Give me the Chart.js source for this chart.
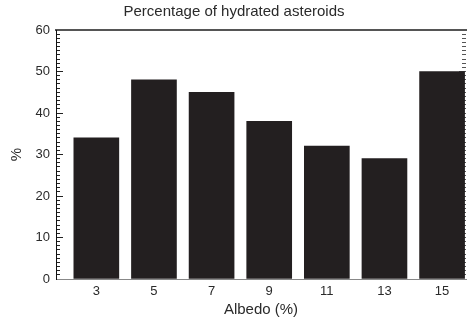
<!DOCTYPE html>
<html lang="en">
<head>
  <meta charset="UTF-8">
  <title>Percentage of hydrated asteroids</title>
  <script src="https://cdn.jsdelivr.net/npm/chart.js"></script>
  <style>
    body {
      margin: 0;
      background: #fff;
    }
    canvas {
      display: block;
    }
  </style>
</head>
<body>

<canvas id="hydratedChart" width="468" height="323"></canvas>

<script>
  // values
  const albedo = [3, 5, 7, 9, 11, 13, 15];
  const hydrated = [34, 48, 45, 38, 32, 29, 50];
  const yTicks = [0, 10, 20, 30, 40, 50, 60];
  const yMinorTicks = [];
  for (let v = 0; v <= 60; v++) yMinorTicks.push(v);

  const font = "'Liberation Sans', Arial, sans-serif";
  const textColor = "#2a2a2a";
  const xMin = 1.6, xMax = 15.83;

  const tickList = list => s => { s.ticks = list.map(v => ({ value: v })); };

  // extra axes only carry inward tick marks / frame lines
  const tickAxis = (position, ticks, len, color, width, weight) => ({
    position,
    min: 0,
    max: 60,
    weight,
    z: 1,
    afterBuildTicks: tickList(ticks),
    afterFit: s => { s.width = width; },
    ticks: { display: false },
    border: { display: false },
    grid: { display: true, drawOnChartArea: false, drawTicks: true, tickLength: -len, color }
  });

  new Chart(document.getElementById("hydratedChart"), {
    type: "bar",
    data: {
      datasets: [{
        data: albedo.map((a, i) => ({ x: a, y: hydrated[i] })),
        backgroundColor: "#231f20",
        borderWidth: 0,
        barThickness: 45
      }]
    },
    options: {
      responsive: false,
      animation: false,
      layout: { padding: { left: 0, right: 0, top: 0, bottom: 0 } },
      scales: {
        x: {
          type: "linear",
          offset: false,
          min: xMin,
          max: xMax,
          afterBuildTicks: tickList(albedo),
          afterFit: s => { s.height = 44; },
          grid: { display: false, drawTicks: false },
          border: { color: "#888", width: 1 },
          ticks: {
            color: textColor,
            font: { family: font, size: 13 },
            padding: 5,
            maxRotation: 0
          },
          title: {
            display: true,
            text: "Albedo (%)",
            color: textColor,
            font: { family: font, size: 15 },
            padding: { top: 0, bottom: 4 }
          }
        },
        xTop: {
          type: "linear",
          position: "top",
          min: xMin,
          max: xMax,
          afterFit: s => { s.height = 0; },
          ticks: { display: false },
          grid: { display: false, drawTicks: false },
          border: { color: "#555", width: 2 }
        },
        y: {
          min: 0,
          max: 60,
          afterBuildTicks: tickList(yTicks),
          afterFit: s => { s.width = 56; },
          grid: { display: true, drawOnChartArea: false, drawTicks: true, tickLength: -7, color: "#222" },
          border: { color: "#111", width: 1 },
          ticks: {
            color: textColor,
            font: { family: font, size: 13 },
            padding: 13
          },
          title: {
            display: true,
            text: "%",
            color: textColor,
            font: { family: font, size: 15 },
            padding: { top: 8, bottom: 0 }
          }
        },
        yMinor: tickAxis("left", yMinorTicks, 4, "#222", 0, -1),
        y3: tickAxis("right", yTicks, 7, "#555", 0, -1),
        y2: tickAxis("right", yMinorTicks, 4, "#555", 2, 0)
      },
      plugins: {
        legend: { display: false },
        tooltip: { enabled: false },
        title: {
          display: true,
          text: "Percentage of hydrated asteroids",
          color: textColor,
          font: { family: font, size: 15, weight: "normal" },
          padding: { top: 3, bottom: 9 }
        }
      }
    }
  });
</script>
</body>
</html>
